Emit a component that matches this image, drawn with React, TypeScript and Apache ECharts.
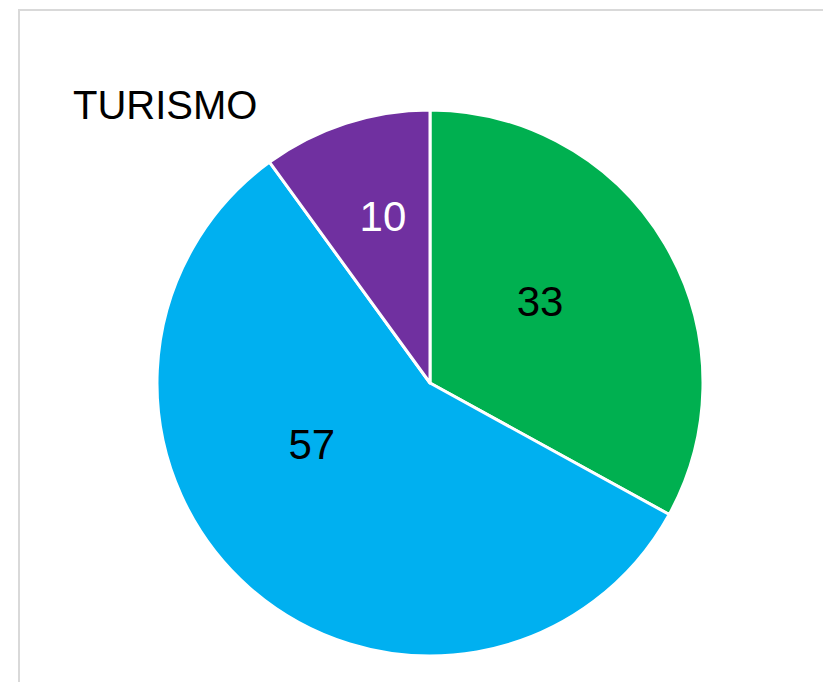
import React, { useEffect, useRef } from "react";
import * as echarts from "echarts";

const title = "TURISMO";
const categories = ["A", "B", "C"];
const values = [33, 57, 10];
const colors = ["#00B050", "#00B0F0", "#7030A0"];
const labelColors = ["#000000", "#000000", "#FFFFFF"];
// label nudges (right padding / line height) to mimic the original label placement
const labelPadRight = [20, 52, 8];
const labelLineHeight = [20, 86, 68];

export default function App() {
  const ref = useRef<HTMLDivElement>(null);
  useEffect(() => {
    if (!ref.current) return;
    const chart = echarts.init(ref.current, null, { renderer: "svg" });
    chart.setOption({
      animation: false,
      backgroundColor: "#ffffff",
      title: {
        text: title,
        left: 73,
        top: 85,
        padding: 0,
        textStyle: {
          fontFamily: "Liberation Sans",
          fontSize: 40,
          fontWeight: "normal",
          color: "#000000",
        },
      },
      graphic: [
        {
          type: "rect",
          shape: { x: 19, y: 10, width: 820, height: 700 },
          style: { fill: "none", stroke: "#d9d9d9", lineWidth: 2 },
          silent: true,
        },
      ],
      series: [
        {
          type: "pie",
          center: [430, 383],
          radius: 273,
          startAngle: 90,
          clockwise: true,
          avoidLabelOverlap: false,
          itemStyle: { borderColor: "#ffffff", borderWidth: 3 },
          label: {
            show: true,
            position: "inside",
            formatter: "{c}\n",
            fontFamily: "Liberation Sans",
            fontSize: 42,
          },
          labelLine: { show: false },
          emphasis: { disabled: true },
          data: categories.map((name, i) => ({
            name,
            value: values[i],
            itemStyle: { color: colors[i] },
            label: {
              color: labelColors[i],
              padding: [0, labelPadRight[i], 0, 0],
              lineHeight: labelLineHeight[i],
            },
          })),
        },
      ],
    });
    return () => chart.dispose();
  }, []);
  return (
    <div
      ref={ref}
      style={{ position: "fixed", left: 0, top: 0, width: 823, height: 682 }}
    />
  );
}
